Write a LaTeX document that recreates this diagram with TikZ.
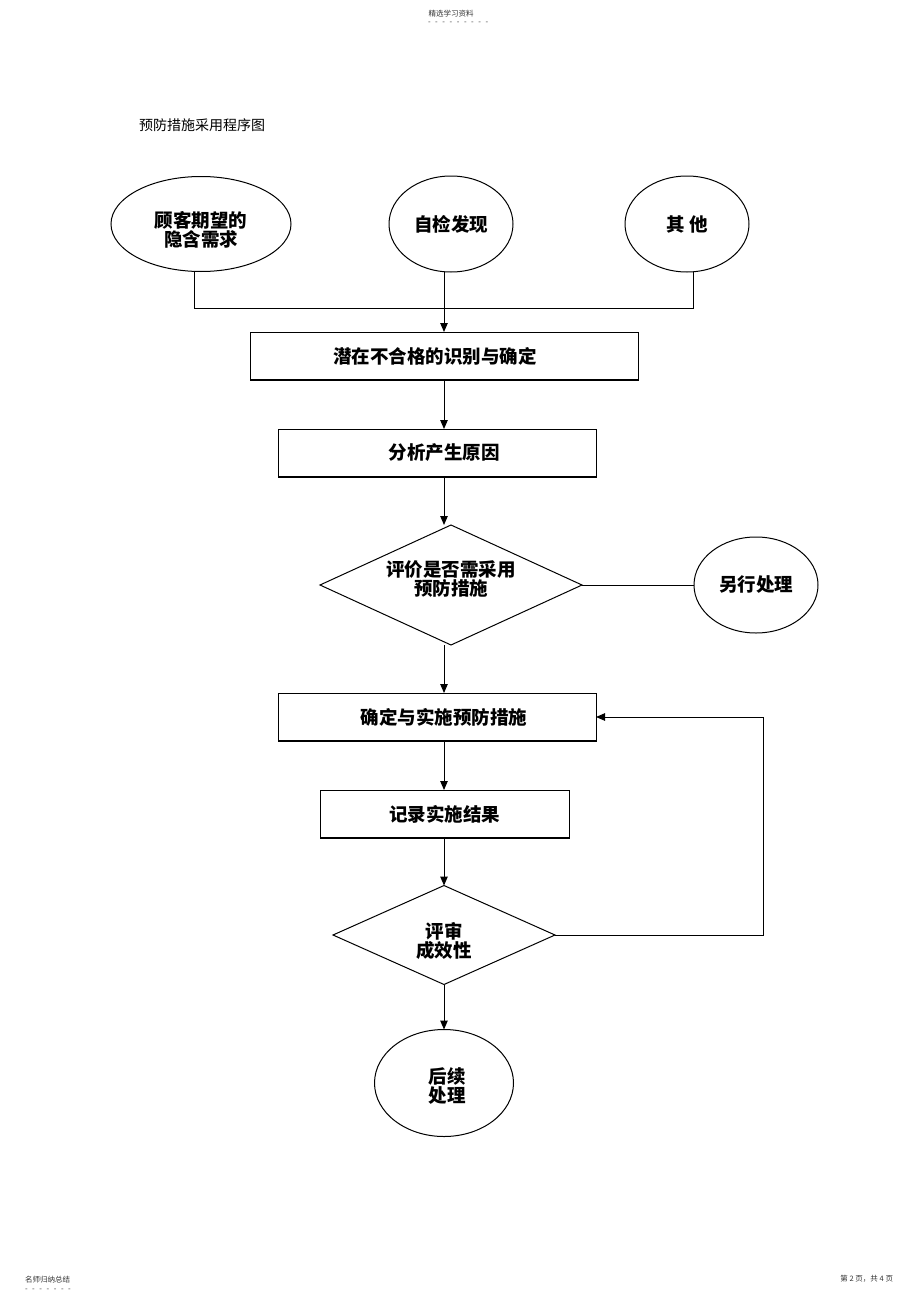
\documentclass[tikz,border=0pt]{standalone}
\usepackage{fontspec}
\setmainfont{Noto Sans CJK SC}
\usetikzlibrary{shapes.geometric,arrows.meta}
\newcommand{\shiftv}[2]{\raisebox{#1}[\height][\depth]{#2}}
\newcommand{\dd}{-\hspace{4.6pt}}
\begin{document}
\begin{tikzpicture}[x=1pt,y=-1pt,
  every node/.style={inner sep=0pt,outer sep=0pt},
  line/.style={draw=black,line width=1pt},
  arr/.style={line,-{Triangle[length=9pt,width=7.5pt]}},
  lbl/.style={font=\fontsize{18.5}{20.5}\selectfont\bfseries,align=center,text=black},
  oval/.style={ellipse,draw=black,line width=1pt,lbl},
  boxstyle/.style={rectangle,draw=black,line width=1pt,lbl},
  dia/.style={diamond,draw=black,line width=1pt,shape aspect=2.2,lbl},
  small/.style={font=\fontsize{7.5}{8}\selectfont,text=black!80}
]
\useasboundingbox (0,0) rectangle (920,1303);
% header / footer
\node[small] (hdr) at (451,14) {精选学习资料};
\node[small,anchor=west] (hdrd) at (428,23) {\dd\dd\dd\dd\dd\dd\dd\dd-};
\node[small,anchor=west] (ftl) at (25,1280) {名师归纳总结};
\node[small,anchor=west] (ftld) at (25,1290) {\dd\dd\dd\dd\dd\dd-};
\node[small,anchor=east] (ftr) at (893,1279) {第 2 页，共 4 页};
% title
\node[font=\fontsize{14}{16}\selectfont,anchor=west] (title) at (139,125) {预防措施采用程序图};
% sources
\node[oval,minimum width=180pt,minimum height=95pt] (e1) at (201,224) {\shiftv{-8pt}{\begin{tabular}{@{}c@{}}顾客期望的\\[-3pt]隐含需求\end{tabular}}};
\node[oval,minimum width=124pt,minimum height=96pt] (e2) at (451,224) {自检发现};
\node[oval,minimum width=124pt,minimum height=96pt] (e3) at (687,224) {其 他};
% boxes
\node[boxstyle,minimum width=388pt,minimum height=48pt] (b1) at (444,356) {潜在不合格的识别与确定\hspace*{18pt}};
\node[boxstyle,minimum width=318pt,minimum height=48pt] (b2) at (437,453) {\hspace*{14pt}分析产生原因};
\node[dia,minimum width=262pt,minimum height=120pt] (d1) at (451,585) {\shiftv{4pt}{\begin{tabular}{@{}c@{}}评价是否需采用\\[-3pt]预防措施\end{tabular}}};
\node[oval,minimum width=124pt,minimum height=96pt] (e4) at (756,585) {另行处理};
\node[boxstyle,minimum width=318pt,minimum height=48pt] (b3) at (437,717) {\hspace*{14pt}确定与实施预防措施};
\node[boxstyle,minimum width=249pt,minimum height=48pt] (b4) at (444.5,814) {记录实施结果};
\node[dia,minimum width=222pt,minimum height=99pt] (d2) at (444,935) {\shiftv{-8pt}{\begin{tabular}{@{}c@{}}评审\\[-3pt]成效性\end{tabular}}};
\node[oval,minimum width=139pt,minimum height=107pt] (e5) at (444,1083) {\hspace*{6pt}\shiftv{-5pt}{\begin{tabular}{@{}c@{}}后续\\[-3pt]处理\end{tabular}}};
% connectors
\coordinate (j) at (444,308);
\coordinate (lp) at (763,717);
\draw[line] ([xshift=-7pt]e1.south) |- ([xshift=6pt]e3.south |- j) -- ([xshift=6pt]e3.south);
\draw[arr] (b1.north -| j) ++(0,-60) coordinate (e2s) -- (b1.north -| j);
\draw[arr] (b1.south -| j) -- (b2.north -| j);
\draw[arr] (b2.south -| j) -- (d1.north -| j);
\draw[line] (d1.east) -- (e4.west);
\draw[arr] (d1.south -| j) -- (b3.north -| j);
\draw[arr] (b3.south -| j) -- (b4.north -| j);
\draw[arr] (b4.south -| j) -- (d2.north);
\draw[arr] (d2.south) -- (e5.north);
\draw[arr] (d2.east) -| (lp) -- (b3.east);
% heavier bottom edges of boxes
\foreach \b in {b1,b2,b3,b4}{
  \draw[line width=1.8pt] (\b.south west) -- (\b.south east);
}
\end{tikzpicture}
\end{document}
